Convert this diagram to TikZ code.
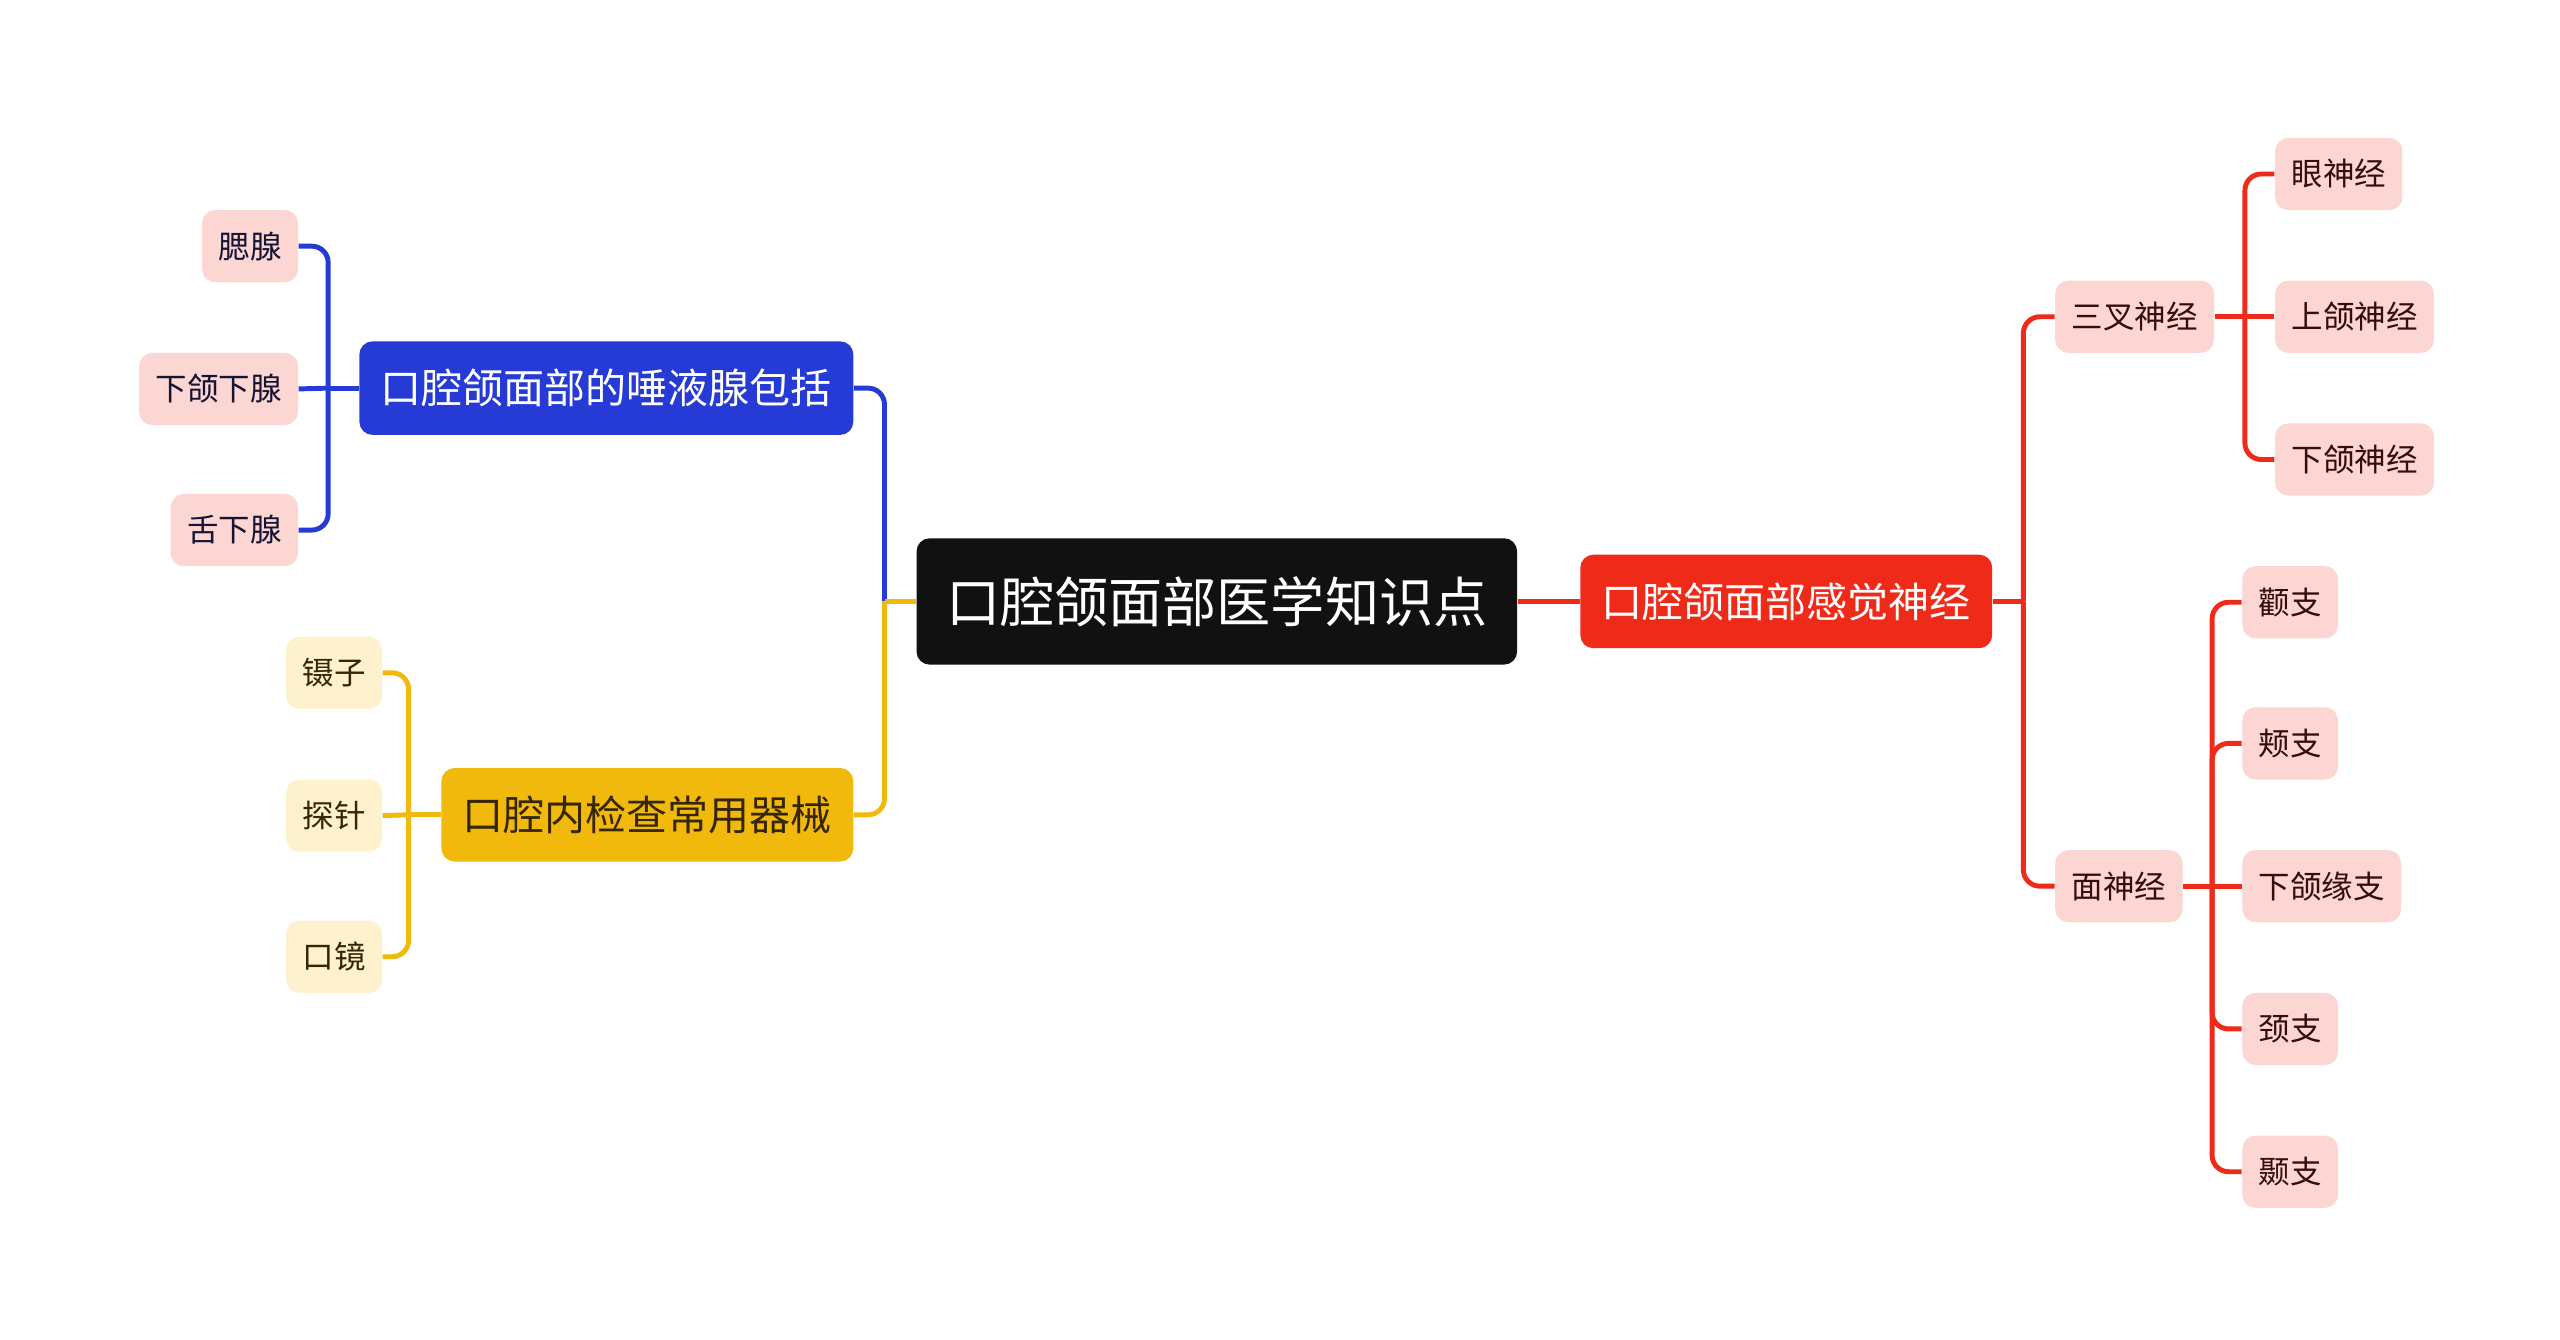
\documentclass[tikz,border=0pt]{standalone}
\usepackage{fontspec}
\setmainfont{Noto Sans CJK SC}
\usepackage{xcolor}
\definecolor{rootblack}{RGB}{17,17,17}
\definecolor{salivablue}{RGB}{38,58,214}
\definecolor{toolyellow}{RGB}{240,185,12}
\definecolor{nervered}{RGB}{239,42,24}
\definecolor{leafpink}{RGB}{251,214,210}
\definecolor{leafcream}{RGB}{253,241,206}
\definecolor{leaftext}{RGB}{55,12,12}
\definecolor{navytext}{RGB}{22,20,52}
\definecolor{creamtext}{RGB}{55,38,5}

\begin{document}
\begin{tikzpicture}[x=0.5pt, y=-0.5pt,
    rootbox/.style={fill=rootblack, text=white, rounded corners=4pt, minimum height=38.5pt, inner xsep=9pt, font=\fontsize{16.5pt}{18pt}\selectfont},
    mainbox/.style={rounded corners=4pt, minimum height=28.5pt, inner xsep=6.5pt, font=\fontsize{12.5pt}{14pt}\selectfont},
    leafbox/.style={fill=leafpink, text=leaftext, rounded corners=4pt, minimum height=22pt, inner xsep=5pt, font=\fontsize{9.6pt}{11pt}\selectfont},
    glandbox/.style={leafbox, text=navytext},
    creambox/.style={leafbox, fill=leafcream, text=creamtext},
    link/.style={line width=1.5pt, rounded corners=5pt}]
      \useasboundingbox (0,0) rectangle (1560,816);

      \node[rootbox] (root) at (741.5,366.5) {口腔颌面部医学知识点};

      \node[mainbox, fill=salivablue, text=white] (saliva) at (369.5,236.5) {口腔颌面部的唾液腺包括};
      \node[mainbox, fill=toolyellow, text=creamtext] (tools) at (394.5,496.5) {口腔内检查常用器械};
      \node[mainbox, fill=nervered, text=white] (nerve) at (1088.5,366.5) {口腔颌面部感觉神经};

      \node[glandbox, anchor=east] (parotid) at (182,150) {腮腺};
      \node[glandbox, anchor=east] (submand) at (182,237) {下颌下腺};
      \node[glandbox, anchor=east] (subling) at (182,323) {舌下腺};

      \node[creambox, anchor=west] (tweezers) at (174,410) {镊子};
      \node[creambox, anchor=west] (probe) at (174,497) {探针};
      \node[creambox, anchor=west] (mirror) at (174,583) {口镜};

      \node[leafbox, anchor=west] (trigem) at (1252,193) {三叉神经};
      \node[leafbox, anchor=west] (facial) at (1252,540) {面神经};

      \node[leafbox, anchor=west] (ophth) at (1386,106) {眼神经};
      \node[leafbox, anchor=west] (maxil) at (1386,193) {上颌神经};
      \node[leafbox, anchor=west] (mandib) at (1386,280) {下颌神经};

      \node[leafbox, anchor=west] (zygo) at (1366,367) {颧支};
      \node[leafbox, anchor=west] (bucc) at (1366,453) {颊支};
      \node[leafbox, anchor=west] (margin) at (1366,540) {下颌缘支};
      \node[leafbox, anchor=west] (cervic) at (1366,627) {颈支};
      \node[leafbox, anchor=west] (tempo) at (1366,714) {颞支};

      \coordinate (rootjoin) at (539,366.5);
      \coordinate (salivajoin) at (200,236.5);
      \coordinate (tooljoin) at (249,496.5);
      \coordinate (nervejoin) at (1233,366.5);
      \coordinate (trigemjoin) at (1368,193);
      \coordinate (facialjoin) at (1348,540);

      \draw[link, salivablue] (saliva.east) -| (rootjoin);
      \draw[link, toolyellow] (tools.east) -| (rootjoin);
      \draw[link, toolyellow] (rootjoin) -- (root.west);
      \draw[link, nervered] (root.east) -- (nerve.west);

      \draw[link, salivablue] (saliva.west) -- (salivajoin);
      \draw[link, salivablue] (parotid.east) -| (salivajoin);
      \draw[link, salivablue] (subling.east) -| (salivajoin);
      \draw[link, salivablue] (submand.east) -- (salivajoin);

      \draw[link, toolyellow] (tools.west) -- (tooljoin);
      \draw[link, toolyellow] (tweezers.east) -| (tooljoin);
      \draw[link, toolyellow] (mirror.east) -| (tooljoin);
      \draw[link, toolyellow] (probe.east) -- (tooljoin);

      \draw[link, nervered] (nerve.east) -- (nervejoin);
      \draw[link, nervered] (trigem.west) -| (nervejoin);
      \draw[link, nervered] (facial.west) -| (nervejoin);

      \draw[link, nervered] (trigem.east) -- (trigemjoin);
      \draw[link, nervered] (ophth.west) -| (trigemjoin);
      \draw[link, nervered] (mandib.west) -| (trigemjoin);
      \draw[link, nervered] (maxil.west) -- (trigemjoin);

      \draw[link, nervered] (facial.east) -- (facialjoin);
      \draw[link, nervered] (zygo.west) -| (facialjoin);
      \draw[link, nervered] (bucc.west) -| (facialjoin);
      \draw[link, nervered] (cervic.west) -| (facialjoin);
      \draw[link, nervered] (tempo.west) -| (facialjoin);
      \draw[link, nervered] (margin.west) -- (facialjoin);
    \end{tikzpicture}
\end{document}
